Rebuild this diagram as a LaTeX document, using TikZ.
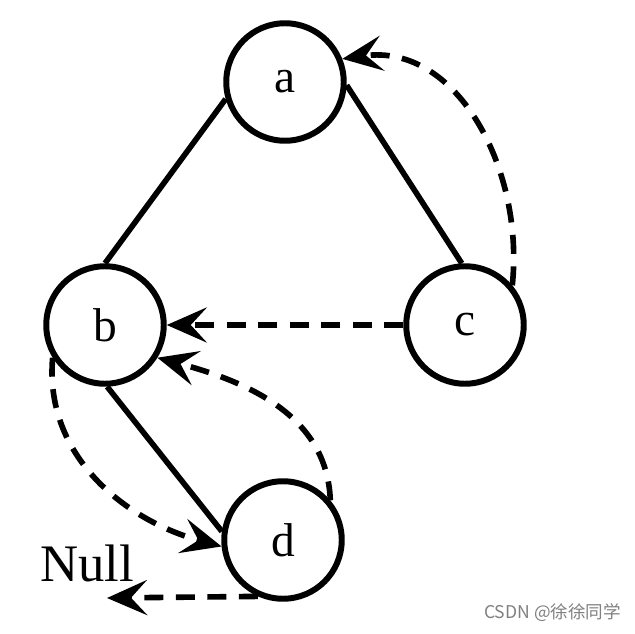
\documentclass[tikz,border=0pt]{standalone}
\usepackage{fontspec}
\setmainfont{Liberation Serif}
\newfontfamily\cjkfont{Noto Sans CJK SC}
\usetikzlibrary{arrows.meta}

\tikzset{
    vertex/.style={circle, draw, line width=3.4pt, minimum size=2.35cm, inner sep=0pt, font=\fontsize{27}{30}\selectfont},
    edge/.style={line width=3.2pt},
    thread/.style={line width=3.2pt, dash pattern=on 0.38cm off 0.25cm,
        -{Stealth[length=0.8cm, width=0.7cm, inset=0.32cm]}}
}

\begin{document}
\begin{tikzpicture}
        \useasboundingbox (0,0) rectangle (12.7,12.66);

        % tree nodes
        \node[vertex] (a) at (5.7,11.02) {a};
        \node[vertex] (b) at (2.1,6.16) {b};
        \node[vertex] (c) at (9.3,6.16) {c};
        \node[vertex] (d) at (5.66,1.86) {d};

        % tree edges
        \draw[edge] (a.196) -- (b.90);
        \draw[edge] (a.-3) -- (c.93);
        \draw[edge] (b.272) -- (d.172);

        % threads (dashed)
        \draw[thread] (c.40) to[out=84, in=8, looseness=1.05] (a.22);
        \draw[thread] (c.west) -- (b.east);
        \draw[thread] (d.40) to[out=92, in=-15] (b.-32);
        \draw[thread] (b.212) to[out=-95, in=165] (d.186);

        % null pointer
        \coordinate (nul) at (2.14,0.7);
        \draw[thread] (d.246) -- (nul);
        \node[font=\fontsize{30}{33}\selectfont] (nulltext) at (1.74,1.4) {Null};

        % watermark
        \node[font=\cjkfont\fontsize{10}{12}\selectfont, text=gray] (mark) at (11.05,0.4) {CSDN @徐徐同学};
\end{tikzpicture}
\end{document}
